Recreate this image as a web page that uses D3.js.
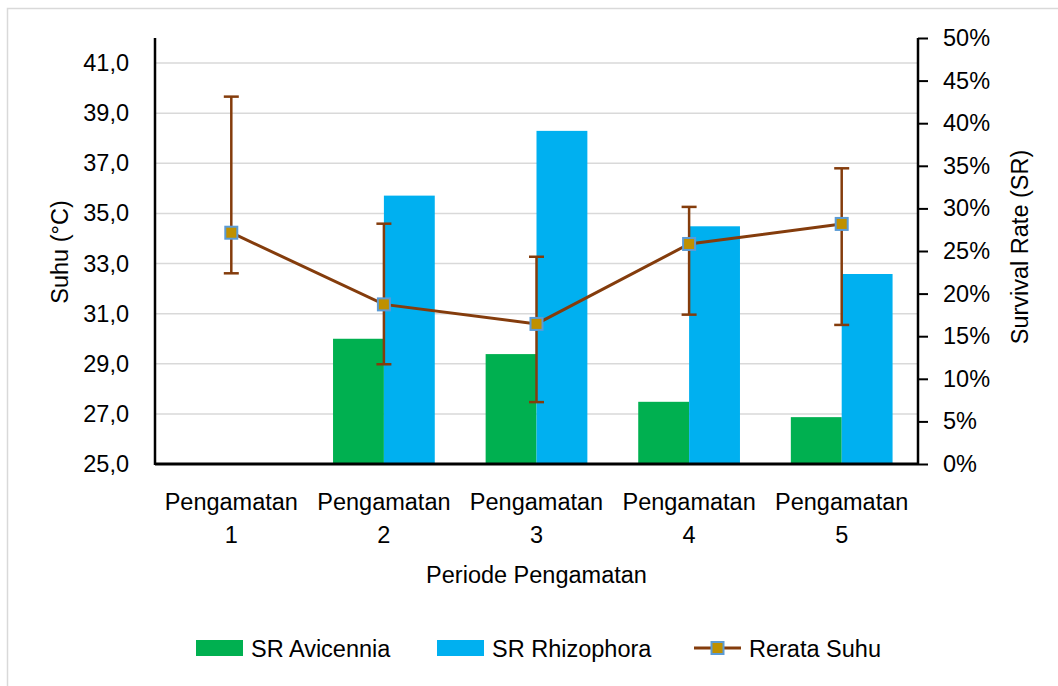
<!DOCTYPE html>
<html>
<head>
<meta charset="utf-8">
<script src="https://cdn.jsdelivr.net/npm/d3@7"></script>
<style>
  body { margin: 0; background: #fff; }
  text { font-family: "Liberation Sans", Arial, sans-serif; fill: #000; }
</style>
</head>
<body>
<div class="chart"></div>
<script>
// data
const categories = ["Pengamatan 1", "Pengamatan 2", "Pengamatan 3", "Pengamatan 4", "Pengamatan 5"];
const srAvicennia = [0, 14.7, 12.9, 7.3, 5.5];        // %
const srRhizophora = [0, 31.5, 39.1, 27.9, 22.3];     // %
const rerataSuhu = [34.23, 31.37, 30.59, 33.78, 34.58];
const suhuUpper = [39.66, 34.59, 33.27, 35.26, 36.80];
const suhuLower = [32.61, 28.98, 27.47, 30.96, 30.55];
const leftTicks = [25, 27, 29, 31, 33, 35, 37, 39, 41];
const rightTicks = [0, 5, 10, 15, 20, 25, 30, 35, 40, 45, 50];

const W = 1058, H = 686;
const margin = {top: 38, left: 155, right: 140, bottom: 222};
const width = W - margin.left - margin.right,
    height = H - margin.top - margin.bottom;

const green = "#00B050", blue = "#00B0F0", brown = "#843C0C";

const svg = d3.select('.chart').append('svg')
    .attr("width", W)
    .attr("height", H);

// outer chart border (only top/left visible in the picture)
svg.append("rect")
    .attr("x", 7.5).attr("y", 8.5)
    .attr("width", W + 20).attr("height", H + 20)
    .attr("fill", "none")
    .attr("stroke", "#d9d9d9")
    .attr("stroke-width", 1.5);

const g = svg.append("g")
    .attr("transform", "translate(" + margin.left + "," + margin.top + ")");

const x0 = d3.scaleBand()
    .domain(categories)
    .range([0, width])
    .padding(0);

const x1 = d3.scaleBand()
    .domain(["av", "rh"])
    .range([x0.bandwidth() / 6, x0.bandwidth() * 5 / 6]);

const yLeft = d3.scaleLinear()
    .domain([25, 42])
    .range([height, 0]);

const yRight = d3.scaleLinear()
    .domain([0, 50])
    .range([height, 0]);

// gridlines
g.selectAll(".grid")
    .data(leftTicks.slice(1))
    .enter()
    .append("line")
    .attr("x1", 0).attr("x2", width)
    .attr("y1", d => yLeft(d)).attr("y2", d => yLeft(d))
    .attr("stroke", "#d9d9d9")
    .attr("stroke-width", 1.5);

// bars
const barData = categories.map((c, i) => [
    {cat: c, key: "av", v: srAvicennia[i]},
    {cat: c, key: "rh", v: srRhizophora[i]}
]).flat();

g.selectAll(".bar")
    .data(barData)
    .enter()
    .append("rect")
    .attr("x", d => x0(d.cat) + x1(d.key))
    .attr("width", x1.bandwidth())
    .attr("y", d => yRight(d.v))
    .attr("height", d => height - yRight(d.v))
    .attr("fill", d => d.key === "av" ? green : blue);

// error bars
const cx = c => x0(c) + x0.bandwidth() / 2;
const errG = g.append("g").attr("stroke", brown).attr("stroke-width", 2.5);
categories.forEach((c, i) => {
    errG.append("line")
        .attr("x1", cx(c)).attr("x2", cx(c))
        .attr("y1", yLeft(suhuUpper[i])).attr("y2", yLeft(suhuLower[i]));
    [suhuUpper[i], suhuLower[i]].forEach(v => {
        errG.append("line")
            .attr("x1", cx(c) - 7.5).attr("x2", cx(c) + 7.5)
            .attr("y1", yLeft(v)).attr("y2", yLeft(v));
    });
});

// temperature line
const line = d3.line()
    .x((d, i) => cx(categories[i]))
    .y(d => yLeft(d));

g.append("path")
    .datum(rerataSuhu)
    .attr("fill", "none")
    .attr("stroke", brown)
    .attr("stroke-width", 3)
    .attr("d", line);

g.selectAll(".marker")
    .data(rerataSuhu)
    .enter()
    .append("rect")
    .attr("x", (d, i) => cx(categories[i]) - 6)
    .attr("y", d => yLeft(d) - 6)
    .attr("width", 12).attr("height", 12)
    .attr("fill", "#BF9000")
    .attr("stroke", "#5B9BD5")
    .attr("stroke-width", 2);

// axes
const yAxisLeft = d3.axisLeft(yLeft)
    .tickValues(leftTicks)
    .tickSize(0)
    .tickPadding(26)
    .tickFormat(d => d3.format(".1f")(d).replace(".", ","));

const yAxisRight = d3.axisRight(yRight)
    .tickValues(rightTicks)
    .tickSize(10)
    .tickSizeOuter(0)
    .tickPadding(15)
    .tickFormat(d => d + "%");

const la = g.append("g").attr("class", "axis").call(yAxisLeft);
const ra = g.append("g").attr("class", "axis")
    .attr("transform", `translate(${width},0)`)
    .call(yAxisRight);

g.selectAll(".axis .domain").remove();
g.selectAll(".axis text")
    .attr("font-size", 23.5)
    .attr("font-family", "Liberation Sans, Arial, sans-serif")
    .attr("fill", "#000");
ra.selectAll(".tick line").attr("stroke", "#000").attr("stroke-width", 2);

// axis lines
g.append("line")
    .attr("x1", 0).attr("x2", 0).attr("y1", yLeft(42)).attr("y2", height + 1)
    .attr("stroke", "#000").attr("stroke-width", 2.5);
g.append("line")
    .attr("x1", width).attr("x2", width).attr("y1", yRight(50)).attr("y2", height + 1)
    .attr("stroke", "#000").attr("stroke-width", 2.5);
g.append("line")
    .attr("x1", 0).attr("x2", width).attr("y1", height).attr("y2", height)
    .attr("stroke", "#000").attr("stroke-width", 3);

// category labels (two lines)
const catLab = g.selectAll(".cat")
    .data(categories)
    .enter()
    .append("text")
    .attr("text-anchor", "middle")
    .attr("font-size", 23.5);
catLab.append("tspan")
    .attr("x", d => cx(d))
    .attr("y", height + 46)
    .text(d => d.split(" ")[0]);
catLab.append("tspan")
    .attr("x", d => cx(d))
    .attr("y", height + 79)
    .text(d => d.split(" ")[1]);

// axis titles
g.append("text")
    .attr("x", width / 2)
    .attr("y", height + 119)
    .attr("text-anchor", "middle")
    .attr("font-size", 23.5)
    .text("Periode Pengamatan");

svg.append("text")
    .attr("transform", "translate(68,252) rotate(-90)")
    .attr("text-anchor", "middle")
    .attr("font-size", 23.5)
    .text("Suhu (°C)");

svg.append("text")
    .attr("transform", "translate(1028,247) rotate(-90)")
    .attr("text-anchor", "middle")
    .attr("font-size", 23.5)
    .text("Survival Rate (SR)");

// legend
const legY = 648;
const legend = svg.append("g");
const legItems = [
    {label: "SR Avicennia", color: green, x: 196, type: "bar"},
    {label: "SR Rhizophora", color: blue, x: 437, type: "bar"},
    {label: "Rerata Suhu", color: brown, x: 694, type: "line"}
];
legItems.forEach(it => {
    if (it.type === "bar") {
        legend.append("rect")
            .attr("x", it.x).attr("y", legY - 8)
            .attr("width", 47).attr("height", 16)
            .attr("fill", it.color);
    } else {
        legend.append("line")
            .attr("x1", it.x).attr("x2", it.x + 47)
            .attr("y1", legY).attr("y2", legY)
            .attr("stroke", brown).attr("stroke-width", 3);
        legend.append("rect")
            .attr("x", it.x + 17.5).attr("y", legY - 6)
            .attr("width", 12).attr("height", 12)
            .attr("fill", "#BF9000")
            .attr("stroke", "#5B9BD5")
            .attr("stroke-width", 2);
    }
    legend.append("text")
        .attr("x", it.x + 55)
        .attr("y", legY + 8.5)
        .attr("font-size", 23.5)
        .text(it.label);
});
</script>
</body>
</html>
